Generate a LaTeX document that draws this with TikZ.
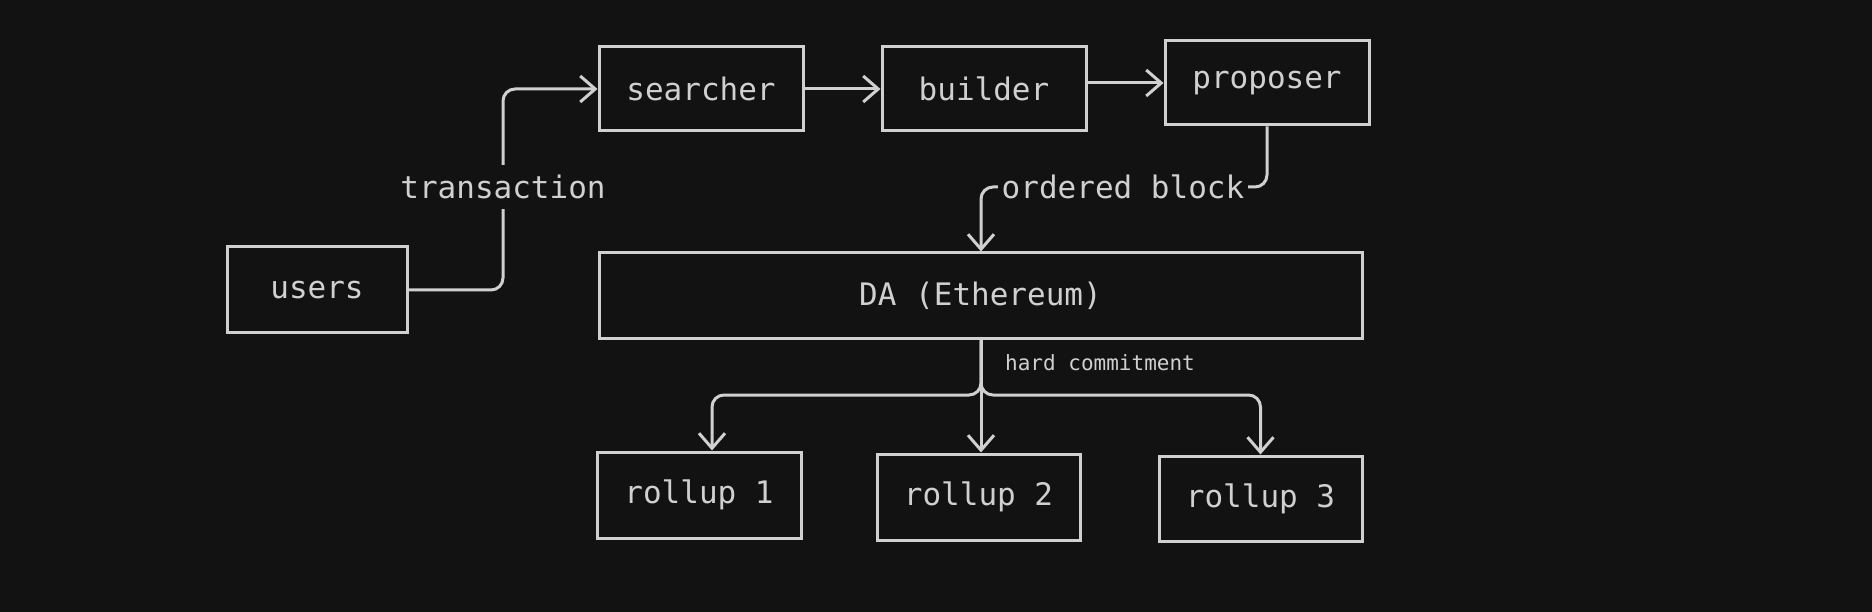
\documentclass[tikz,border=0pt]{standalone}
\usepackage{fontspec}
\setmonofont{DejaVu Sans Mono}
\usetikzlibrary{arrows.meta,calc}
\definecolor{bgc}{HTML}{121212}
\definecolor{fgc}{HTML}{D0D0D0}
\tikzset{
  box/.style={draw=fgc, line width=3pt, text=fgc, font=\ttfamily\fontsize{31}{36}\selectfont, inner sep=0pt},
  conn/.style={draw=fgc, line width=3pt, rounded corners=12pt, -{Straight Barb[length=15pt,width=26pt,line width=3pt]}},
  lbl/.style={text=fgc, font=\ttfamily\fontsize{31}{36}\selectfont, fill=bgc, inner xsep=4pt, inner ysep=10pt},
  smalllbl/.style={text=fgc, font=\ttfamily\fontsize{21}{25}\selectfont, inner sep=0pt}
}
\begin{document}
\begin{tikzpicture}[x=1pt,y=-1pt]
\fill[bgc] (0,0) rectangle (1872,612);
\useasboundingbox (0,0) rectangle (1872,612);
% nodes
\node[box, minimum width=180pt, minimum height=86pt] (users) at (317,290) {users};
\node[box, minimum width=204pt, minimum height=84pt] (searcher) at (701,89) {searcher};
\node[box, minimum width=204pt, minimum height=84pt] (builder) at (984,89) {builder};
\node[box, minimum width=204pt, minimum height=84pt] (proposer) at (1267,83) {proposer};
\node[box, minimum width=763pt, minimum height=86pt] (da) at (980.5,296) {DA (Ethereum)};
\node[box, minimum width=204pt, minimum height=86pt] (r1) at (699,495) {rollup 1};
\node[box, minimum width=203pt, minimum height=86pt] (r2) at (978.5,497) {rollup 2};
\node[box, minimum width=203pt, minimum height=85pt] (r3) at (1260.5,498.5) {rollup 3};
% helper coordinates
\coordinate (tx) at (503,187);
\coordinate (ob) at (981,187);
\coordinate (hc) at (981,395);
\coordinate (r1top) at ([xshift=13pt]r1.north);
\coordinate (r3top) at (r3.north);
% connectors
\draw[conn] (users.east) -| (tx) |- (searcher.west);
\node[lbl] (txl) at (tx) {transaction};
\draw[conn] (searcher.east) -- (builder.west);
\draw[conn] (builder.east |- proposer.west) -- (proposer.west);
\draw[conn] (proposer.south) |- (ob) -- (da.north -| ob);
\node[lbl] (obl) at (1123,187) {ordered block};
\draw[conn] (da.south -| hc) |- (hc -| r1top) -- (r1top);
\draw[conn] (da.south -| hc) -- (hc |- r2.north);
\draw[conn] (da.south -| hc) |- (hc -| r3top) -- (r3top);
\node[smalllbl, anchor=west] (hcl) at (1005,363) {hard commitment};
\end{tikzpicture}
\end{document}
